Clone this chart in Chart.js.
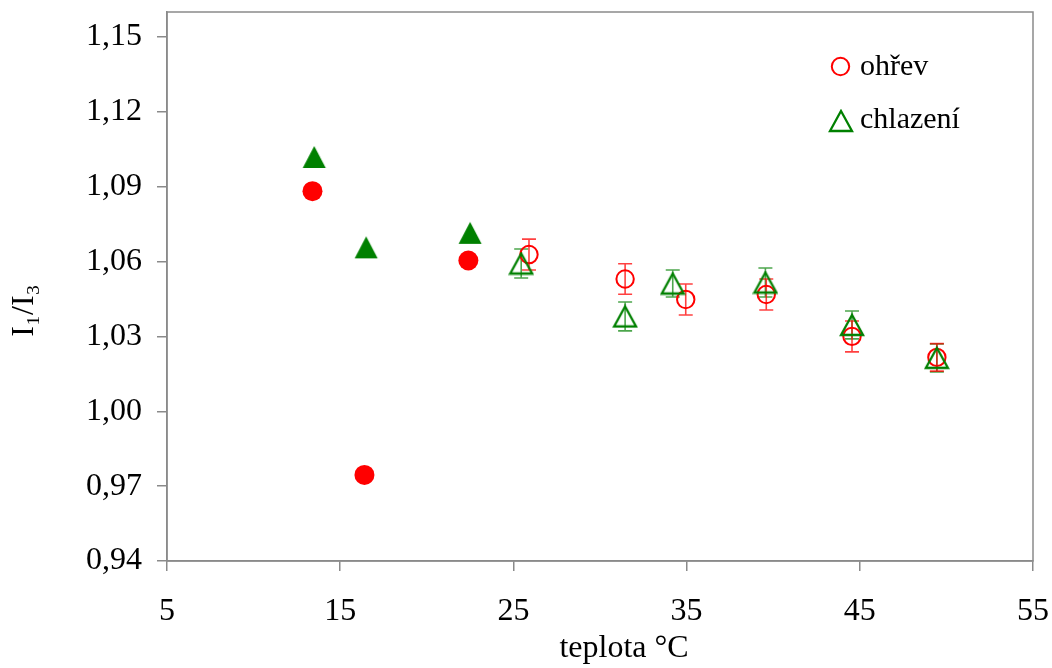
<!DOCTYPE html>
<html>
<head>
<meta charset="utf-8">
<script src="https://cdn.jsdelivr.net/npm/chart.js@4.4.0/dist/chart.umd.min.js"></script>
<style>
html, body { margin: 0; padding: 0; background: #fff; }
</style>
</head>
<body>
<canvas id="chart" width="1052" height="668"></canvas>
<script>
// points without error bars (filled markers)
var heatFilledT = [13.4, 16.4, 22.4];
var heatFilledR = [1.0882, 0.9745, 1.0604];
var coolFilledT = [13.5, 16.5, 22.5];
var coolFilledR = [1.1019, 1.0657, 1.0715];

// ohřev / chlazení with error bars (open markers)
var heatT = [25.9, 31.45, 34.95, 39.6, 44.55, 49.45];
var heatR = [1.0628, 1.0530, 1.0448, 1.0468, 1.0300, 1.0216];
var heatErr = [0.0062, 0.0061, 0.0062, 0.0062, 0.0062, 0.0055];

var coolT = [25.45, 31.45, 34.2, 39.55, 44.55, 49.45];
var coolR = [1.0592, 1.0380, 1.0512, 1.0516, 1.0346, 1.0214];
var coolErr = [0.0058, 0.0058, 0.0054, 0.0058, 0.0056, 0.0056];

var xTicks = [5, 15, 25, 35, 45, 55];
var yTicks = [0.94, 0.97, 1.00, 1.03, 1.06, 1.09, 1.12, 1.15];

var RED = '#ff0000';
var GREEN = '#008000';
var AXIS = '#8a8a8a';
var FONT = { family: 'Liberation Serif', size: 32 };

function points(xs, ys) {
    return xs.map(function (x, i) { return { x: x, y: ys[i] }; });
}

function triangleImage(filled) {
    var c = document.createElement('canvas');
    c.width = 26;
    c.height = 24;
    var g = c.getContext('2d');
    g.beginPath();
    if (filled) {
        g.moveTo(13, 1); g.lineTo(24.5, 23); g.lineTo(1.5, 23);
        g.closePath();
        g.fillStyle = GREEN;
        g.fill();
    } else {
        g.moveTo(13, 2); g.lineTo(24, 22); g.lineTo(2, 22);
        g.closePath();
        g.strokeStyle = GREEN;
        g.lineWidth = 2.3;
        g.stroke();
    }
    return c;
}
var triOpen = triangleImage(false);
var triFilled = triangleImage(true);

var errorBars = {
    id: 'errorBars',
    beforeDatasetsDraw: function (chart) {
        var ctx = chart.ctx, xs = chart.scales.x, ys = chart.scales.y;
        chart.data.datasets.forEach(function (ds) {
            if (!ds.errors) return;
            ctx.save();
            ctx.strokeStyle = ds.errorColor;
            ctx.lineWidth = 1.6;
            ds.data.forEach(function (p, i) {
                var x = xs.getPixelForValue(p.x);
                var y1 = ys.getPixelForValue(p.y + ds.errors[i]);
                var y2 = ys.getPixelForValue(p.y - ds.errors[i]);
                ctx.beginPath();
                ctx.moveTo(x, y1); ctx.lineTo(x, y2);
                ctx.moveTo(x - 7, y1); ctx.lineTo(x + 7, y1);
                ctx.moveTo(x - 7, y2); ctx.lineTo(x + 7, y2);
                ctx.stroke();
            });
            ctx.restore();
        });
    }
};

var frameAndLegend = {
    id: 'frameAndLegend',
    afterDraw: function (chart) {
        var ctx = chart.ctx, a = chart.chartArea;
        ctx.save();
        ctx.strokeStyle = AXIS;
        ctx.lineWidth = 1.5;
        ctx.strokeRect(a.left, a.top, a.right - a.left, a.bottom - a.top);

        // legend (only the open-marker series)
        ctx.strokeStyle = RED;
        ctx.lineWidth = 2;
        ctx.beginPath();
        ctx.arc(840.5, 66.5, 8.7, 0, Math.PI * 2);
        ctx.stroke();
        ctx.drawImage(triOpen, 841 - 13, 121 - 12);
        ctx.fillStyle = '#000';
        ctx.font = '30px "Liberation Serif"';
        ctx.textBaseline = 'alphabetic';
        ctx.fillText('ohřev', 860, 75);
        ctx.fillText('chlazení', 860, 128);
        ctx.restore();
    }
};

var chart = new Chart(document.getElementById('chart'), {
    type: 'scatter',
    data: {
        datasets: [{
            label: 'chlazení',
            data: points(coolT, coolR),
            errors: coolErr,
            errorColor: 'rgba(0,128,0,0.7)',
            pointStyle: triOpen,
            order: 0
        }, {
            label: 'ohřev',
            data: points(heatT, heatR),
            errors: heatErr,
            errorColor: 'rgba(255,0,0,0.75)',
            pointStyle: 'circle',
            pointRadius: 8.7,
            borderWidth: 2,
            borderColor: RED,
            backgroundColor: 'rgba(0,0,0,0)',
            order: 1
        }, {
            label: 'chlazení (bez chyb)',
            data: points(coolFilledT, coolFilledR),
            pointStyle: triFilled,
            order: 2
        }, {
            label: 'ohřev (bez chyb)',
            data: points(heatFilledT, heatFilledR),
            pointStyle: 'circle',
            pointRadius: 10,
            borderWidth: 0,
            backgroundColor: RED,
            order: 3
        }]
    },
    options: {
        responsive: false,
        animation: false,
        events: [],
        layout: { padding: { left: 0, right: 19, top: 12, bottom: 0 } },
        plugins: {
            legend: { display: false },
            tooltip: { enabled: false }
        },
        scales: {
            x: {
                type: 'linear',
                min: 5,
                max: 55,
                afterBuildTicks: function (s) {
                    s.ticks = xTicks.map(function (v) { return { value: v }; });
                },
                afterFit: function (s) {
                    s.height = 107;
                    s.paddingLeft = 0;
                    s.paddingRight = 0;
                },
                grid: { drawOnChartArea: false, tickLength: 10, color: AXIS, lineWidth: 1.5 },
                border: { color: AXIS, width: 1.5 },
                ticks: { font: FONT, color: '#000', padding: 21, maxRotation: 0 },
                title: {
                    display: true,
                    text: '      teplota °C',
                    font: FONT,
                    color: '#000',
                    padding: { top: 0, bottom: 0 }
                }
            },
            y: {
                type: 'linear',
                min: 0.94,
                max: 1.16,
                afterBuildTicks: function (s) {
                    s.ticks = yTicks.map(function (v) { return { value: v }; });
                },
                afterFit: function (s) {
                    s.width = 167;
                    s.paddingTop = 0;
                    s.paddingBottom = 0;
                },
                grid: { drawOnChartArea: false, tickLength: 10, color: AXIS, lineWidth: 1.5 },
                border: { color: AXIS, width: 1.5 },
                ticks: {
                    font: FONT,
                    color: '#000',
                    padding: 15,
                    callback: function (v) { return v.toFixed(2).replace('.', ','); }
                },
                title: {
                    display: true,
                    text: 'I₁/I₃      ',
                    font: FONT,
                    color: '#000',
                    padding: { top: 5, bottom: 0 }
                }
            }
        }
    },
    plugins: [errorBars, frameAndLegend]
});
</script>
</body>
</html>
